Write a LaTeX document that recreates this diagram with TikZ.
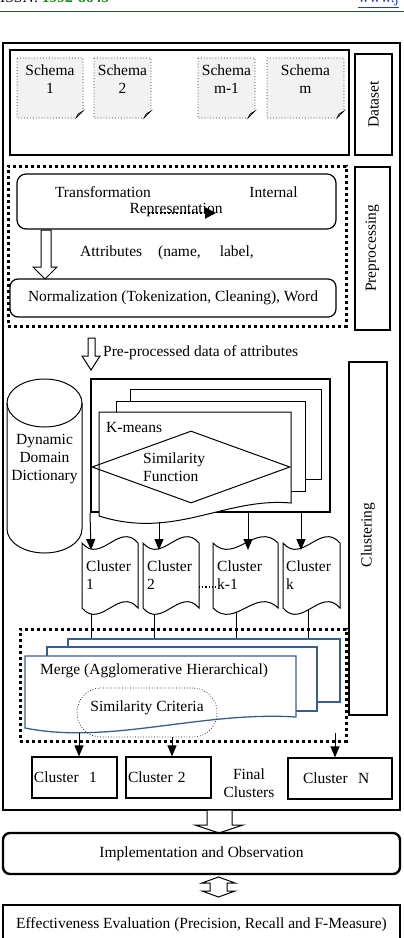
\documentclass[tikz,border=0pt]{standalone}
\usepackage{fontspec}
\setmainfont{Liberation Serif}
\usepackage{xcolor}
\usepackage{tikz}
\usetikzlibrary{arrows.meta,positioning,shapes.geometric}
\definecolor{issngreen}{HTML}{1E8B1E}
\definecolor{rulegreen}{HTML}{1F5A1F}
\definecolor{linkblue}{HTML}{1F3FBF}
\definecolor{mergeblue}{HTML}{3A5E8C}
\definecolor{schemafill}{HTML}{F2F2F2}

% schema sheet with folded corner: x0 y0 x1 y1
\newcommand{\schemadoc}[4]{%
  \draw[schemaline] (#1,#2) -- (#3,#2) -- (#3,#4-7) -- (#3-7,#4) -- (#1,#4) -- cycle;
  \draw[fill=gray!50,line width=0.6pt] (#3,#4-7) -- (#3-7,#4) -- (#3-5,#4-4) -- cycle;}
% punched tape: x0 x1 ytop ybottom
\newcommand{\tapeshape}[4]{%
  \draw[tapeline] (#1,#3) .. controls +({(#2-#1)/3},22) and +({(#1-#2)/3},-22) .. (#2,#3)
    -- (#2,#4) .. controls +({(#1-#2)/3},-22) and +({(#2-#1)/3},22) .. (#1,#4) -- cycle;}

\begin{document}
\begin{tikzpicture}[x=1pt,y=-1pt,
  font=\fontsize{15.5}{18}\selectfont,
  txt/.style={inner sep=0pt},
  bigframe/.style={draw,line width=2.4pt,inner sep=0pt},
  panel/.style={draw,line width=1.4pt,inner sep=0pt},
  labbox/.style={draw,line width=1.1pt,inner sep=0pt},
  dotframe/.style={draw,line width=3pt,dash pattern=on 3pt off 3pt,inner sep=0pt},
  roundbox/.style={draw,line width=1.2pt,rounded corners=9pt,inner sep=0pt},
  schemaline/.style={draw=black!80,fill=schemafill,line width=0.9pt,dotted},
  doc/.style={draw,line width=1pt,fill=white,inner sep=0pt},
  mdoc/.style={draw=mergeblue,line width=1.3pt,fill=white,inner sep=0pt},
  tapeline/.style={draw,line width=1pt,fill=white},
  hollow/.style={draw,line width=1pt,fill=white},
  arr/.style={-{Triangle[length=11pt,width=9pt]},line width=1pt},
  link/.style={line width=1pt},
  dotarr/.style={-{Triangle[length=11pt,width=11pt]},line width=2pt,dotted},
  critbox/.style={draw,line width=0.7pt,dotted,rounded corners=24pt,inner sep=0pt}
]
\useasboundingbox (0,0) rectangle (404,938);

% page header
\draw[rulegreen,line width=1pt] (0,11) -- (404,11);
\node[txt,anchor=base west] (issn) at (0,2) {ISSN: \textcolor{issngreen}{\textbf{1992-8645}}};
\node[txt,anchor=base west] (web) at (358,2) {\textcolor{linkblue}{\underline{www.j}}};

\node[bigframe,minimum width=397,minimum height=767] (main) at (201.5,426.5) {};

% dataset
\node[panel,minimum width=339,minimum height=105] (data) at (179.5,102.5) {};
\schemadoc{17}{58}{83}{118}
\schemadoc{94}{58}{151}{118}
\schemadoc{198}{58}{255}{118}
\schemadoc{267}{58}{344}{118}
\node[txt,align=center] (s1) at (50,79) {Schema\\1};
\node[txt,align=center] (s2) at (122.5,79) {Schema\\2};
\node[txt,align=center] (s3) at (226.5,79) {Schema\\m-1};
\node[txt,align=center] (s4) at (305.5,79) {Schema\\m};
\node[labbox,rotate=90,minimum width=101,minimum height=37] (dlab) at (373.5,104.5) {Dataset};

% preprocessing
\node[dotframe,minimum width=338,minimum height=160] (prep) at (177,246) {};
\node[roundbox,minimum width=319,minimum height=55] (trans) at (176.5,201.5) {};
\node[txt] (tr1) at (103,192.5) {Transformation};
\node[txt] (tr2) at (273.5,192.5) {Internal};
\node[txt] (tr3) at (176,210) {Representation};
\coordinate (rp1) at (148,213);
\coordinate (rp2) at (216,213);
\draw[dotarr] (rp1) -- (rp2);
\draw[hollow] (41,230) -- (51,230) -- (51,267) -- (57,267) -- (45,279) -- (33,267) -- (41,267) -- cycle;
\node[txt,anchor=west] (attr) at (80,253) {Attributes\hspace{16pt}(name,\hspace{19pt}label,};
\node[roundbox,rounded corners=8pt,minimum width=326,minimum height=38] (norm) at (173,298) {Normalization (Tokenization, Cleaning), Word};
\node[labbox,rotate=90,minimum width=163,minimum height=35] (plab) at (372.5,248.5) {Preprocessing};

\draw[hollow] (88,338) -- (95,338) -- (95,356) -- (100,356) -- (91,370) -- (82,356) -- (88,356) -- cycle;
\node[txt,anchor=west] (ppd) at (103,353) {Pre-processed data of attributes};

% dictionary
\draw[link,fill=white] (7,403) -- (7,529) arc[start angle=180,end angle=0,x radius=37.5,y radius=24] -- (82,403);
\draw[link] (44.5,403) ellipse[x radius=37.5,y radius=24];
\node[txt,align=center] (dict) at (44.5,459) {Dynamic\\Domain\\Dictionary};

% k-means
\node[draw,line width=2pt,minimum width=239,minimum height=133,inner sep=0pt] (km) at (210.5,445.5) {};
\node[doc,minimum width=191,minimum height=90] (kmback) at (225.5,434) {};
\node[doc,minimum width=189,minimum height=90] (kmmid) at (210.5,446) {};
\draw[doc] (99,412) -- (291,412) -- (291,503) .. controls (225,497) and (175,540) .. (99,516) -- cycle;
\node[txt,anchor=west] (kmt) at (106,427) {K-means};
\node[diamond,draw,line width=1pt,minimum width=198,minimum height=72,inner sep=0pt] (simf) at (191,467) {};
\node[txt,anchor=west,align=left] (simft) at (143,467.5) {Similarity\\Function};

\node[labbox,minimum width=38,minimum height=353] (clab) at (368,538.5) {};
\node[txt,rotate=90] (cltxt) at (368,535) {Clustering};

% merge
\node[dotframe,minimum width=326,minimum height=112] (mbox) at (183,685) {};
\node[mdoc,minimum width=272,minimum height=63] (mback) at (204,670.5) {};
\node[mdoc,minimum width=270,minimum height=64] (mmid) at (182,679) {};
\draw[mdoc] (25,656) -- (296,656) -- (296,717) .. controls (200,711) and (110,745) .. (25,728) -- cycle;
\node[txt,anchor=west] (mt) at (40,671) {Merge (Agglomerative Hierarchical)};
\node[critbox,minimum width=140,minimum height=49] (simc) at (147,712.5) {};
\node[txt] (simct) at (147,708) {Similarity Criteria};

% clusters
\coordinate (c1out) at (91,600);
\coordinate (c2out) at (154,600);
\coordinate (c3out) at (236,600);
\coordinate (c4out) at (308,600);
\draw[link] (c1out) -- (c1out |- mback.north);
\draw[link] (c2out) -- (c2out |- mback.north);
\draw[link] (c3out) -- (c3out |- mback.north);
\draw[link] (c4out) -- (c4out |- mback.north);
\tapeshape{82}{138}{543}{608}
\tapeshape{143}{199}{543}{608}
\tapeshape{213}{278}{543}{608}
\tapeshape{283}{340}{543}{608}
\node[txt,anchor=west,align=left] (c1) at (86,575) {Cluster\\1};
\node[txt,anchor=west,align=left] (c2) at (147,575) {Cluster\\2};
\node[txt,anchor=west,align=left] (c3) at (217,575) {Cluster\\k-1};
\node[txt,anchor=west,align=left] (c4) at (286,575) {Cluster\\k};
\coordinate (dl1) at (199,587);
\coordinate (dl2) at (218,587);
\draw[line width=1.2pt,dotted] (dl1) -- (dl2);

\coordinate (c1in) at (91,550);
\coordinate (c2in) at (159,550);
\coordinate (c3in) at (248,550);
\coordinate (c4in) at (301,550);
\coordinate (kmwave) at (159,522);
\draw[arr] (km.south west) -- (c1in);
\draw[arr] (kmwave) -- (c2in);
\draw[arr] (c3in |- km.south) -- (c3in);
\draw[arr] (c4in |- km.south) -- (c4in);

% final clusters
\node[panel,line width=1.2pt,minimum width=85,minimum height=41,text width=81,align=left] (f1) at (74.5,777.5) {Cluster\ \ 1};
\node[panel,line width=1.2pt,minimum width=85,minimum height=41,text width=81,align=left] (f2) at (168.5,777.5) {Cluster 2};
\node[panel,line width=1.2pt,minimum width=104,minimum height=41,text width=74,align=left] (fN) at (340,778.5) {Cluster\ \ N};
\node[txt,align=center] (fin) at (249,783) {Final\\Clusters};
\coordinate (m1out) at (79,733);
\coordinate (m2out) at (172,737);
\coordinate (m3out) at (335,733);
\draw[arr] (m1out) -- (m1out |- f1.north);
\draw[arr] (m2out) -- (m2out |- f2.north);
\draw[arr] (m3out) -- (m3out |- fN.north);

% evaluation
\draw[hollow] (207,810) -- (232,810) -- (232,825) -- (243,825) -- (219,833) -- (195,825) -- (207,825) -- cycle;
\node[draw,line width=2.4pt,rounded corners=7pt,minimum width=397,minimum height=41,inner sep=0pt] (impl) at (201.5,853.5) {Implementation and Observation};
\draw[hollow] (218.5,877) -- (235,883) -- (227,883) -- (227,891) -- (235,891) -- (218.5,897) -- (202,891) -- (210,891) -- (210,883) -- (202,883) -- cycle;
\node[bigframe,minimum width=397,minimum height=40] (eval) at (201.5,925) {Effectiveness Evaluation (Precision, Recall and F-Measure)};
\end{tikzpicture}
\end{document}
